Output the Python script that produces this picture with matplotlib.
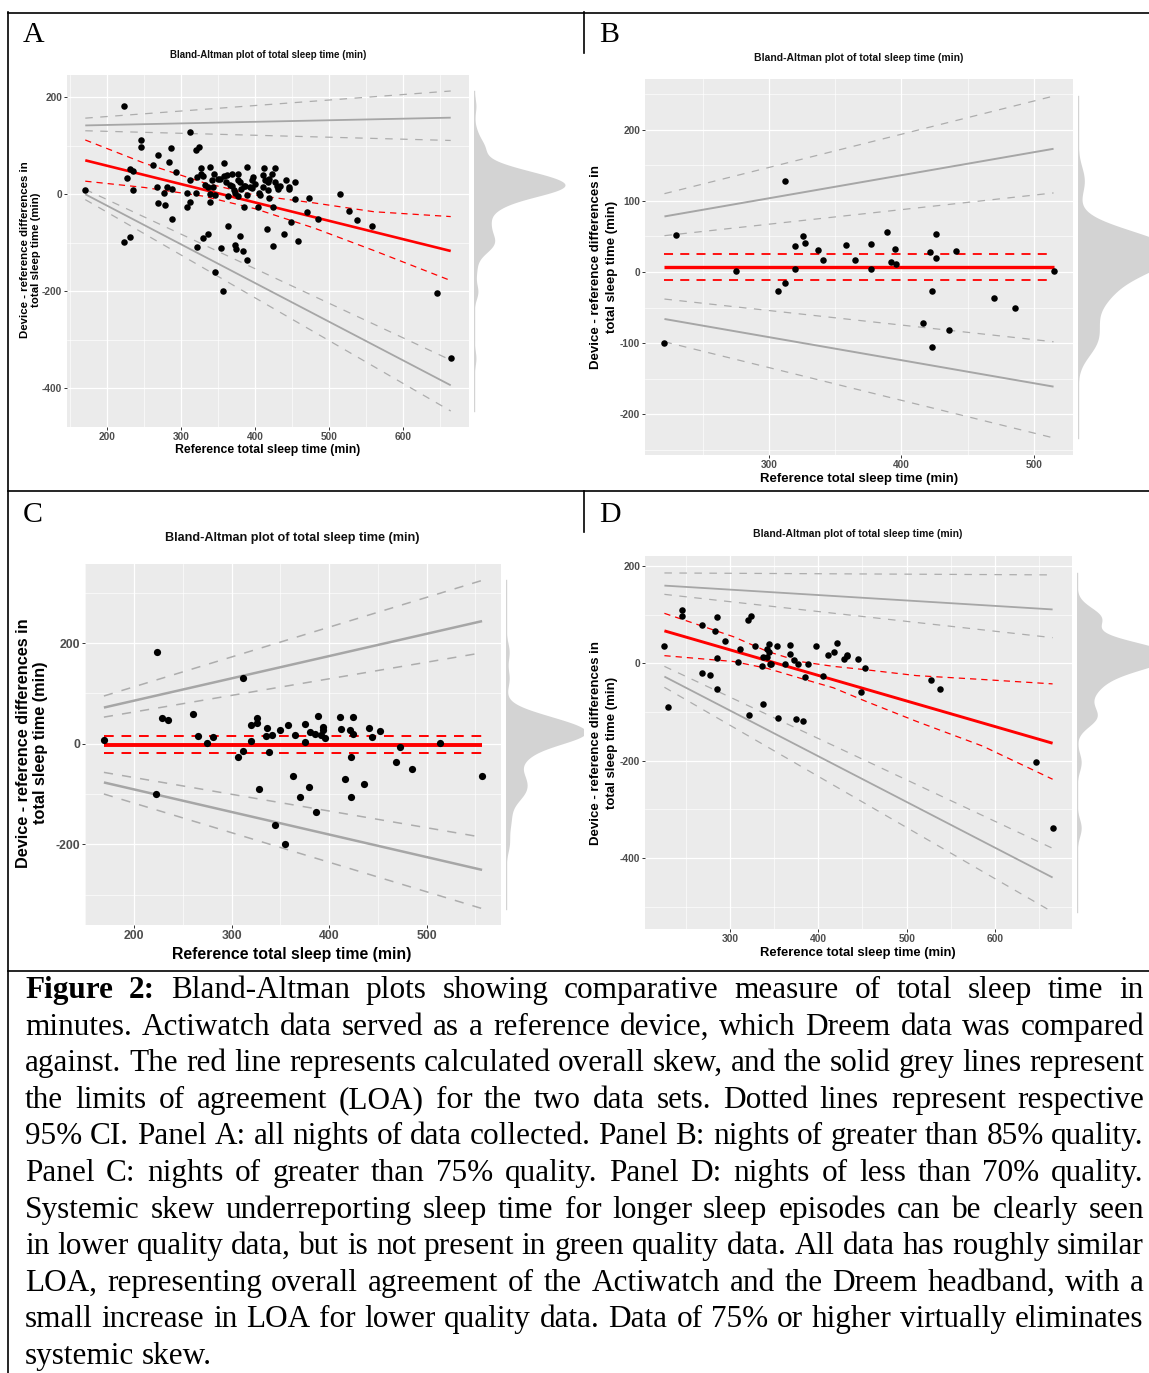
import numpy as np
import matplotlib
matplotlib.use("Agg")
import matplotlib.pyplot as plt
from matplotlib.lines import Line2D
from matplotlib.ticker import MultipleLocator

plt.rcParams["axes.unicode_minus"] = False

# ---------------- DATA ----------------
# Panel A: all nights
a_ref = [170, 223, 223, 230, 227, 230, 235, 235, 245, 245, 261, 268, 267, 268, 276, 278, 283, 286, 281, 287,
         287, 293, 308, 308, 311, 312, 312, 320, 324, 320, 321, 321, 327, 329, 329, 338, 336, 338, 338, 336,
         341, 344, 342, 346, 345, 353, 356, 350, 357, 358, 363, 363, 366, 369, 371, 372, 374, 376, 376, 379,
         379, 381, 383, 385, 385, 388, 389, 388, 392, 395, 397, 403, 406, 412, 410, 413, 416, 417, 419, 422,
         424, 424, 427, 427, 431, 433, 438, 442, 445, 448, 453, 454, 457, 470, 472, 485, 514, 527, 537, 558,
         645, 664, 327, 352, 362, 368, 372, 377, 386, 395, 405, 419, 429, 417, 446, 410, 360, 332, 400]
a_diff = [8, 182, -99, -89, 34, 52, 49, 9, 111, 98, 60, 80, 16, -19, 3, -23, 67, 96, 14, 11,
          -52, 46, -26, 3, 30, 129, -15, 91, 98, 3, -108, 36, 55, 38, -90, 57, 14, 1, -16, -82,
          29, 41, 15, -2, -161, -111, -199, 32, 38, 65, -3, -65, 19, 41, 8, -104, -112, 41, -3, 25,
          -87, 10, -118, -26, 18, -136, 57, -1, 16, 30, 36, -27, -1, 54, 16, 29, -71, 25, -8, 41,
          -26, -107, 54, 26, 11, 18, -81, 30, 10, -58, 25, -10, -96, -36, -7, -50, 1, -34, -53, -65,
          -203, -338, 42, 32, 39, 18, 2, 30, 18, 12, 2, 32, 18, 8, 15, 40, 25, 20, 22]
a_bias = [70, -117]
a_loa_up = [142, 158]
a_loa_up_hi = [157, 213]
a_loa_up_lo = [131, 111]
a_loa_low = [0, -394]
a_loa_low_hi = [10, -342]
a_loa_low_lo = [-11, -447]
a_ci_ref = [170, 250, 330, 400, 480, 560, 664]
a_ci_hi = [112, 64, 24, -2, -18, -36, -46]
a_ci_lo = [27, 14, -4, -30, -70, -116, -178]

# Panel B: nights > 85% quality
b_ref = [221, 230, 275, 312, 307, 312, 320, 320, 326, 327, 337, 341, 358, 365, 377, 377, 389, 392, 395, 396,
         416, 422, 423, 423, 426, 426, 436, 441, 470, 486, 515]
b_diff = [-100, 52, 2, 128, -26, -16, 37, 4, 51, 41, 31, 17, 38, 17, 40, 4, 56, 14, 32, 11,
          -71, 28, -26, -106, 53, 20, -81, 30, -37, -50, 1]
b_bias = [7, 7]
b_loa_up = [78, 173]
b_loa_up_hi = [110, 247]
b_loa_up_lo = [51, 111]
b_loa_low = [-66, -161]
b_loa_low_hi = [-38, -98]
b_loa_low_lo = [-98, -233]
b_ci_ref = [221, 515]
b_ci_hi = [25, 25]
b_ci_lo = [-11, -11]

# Panel C: nights > 75% quality
c_ref = [169, 223, 222, 229, 235, 260, 266, 275, 281, 307, 312, 312, 320, 320, 326, 326, 328, 336, 335, 338,
         341, 345, 350, 355, 358, 363, 365, 370, 375, 375, 379, 380, 386, 387, 389, 392, 394, 394, 396, 411,
         412, 416, 421, 422, 422, 425, 425, 436, 441, 444, 452, 469, 473, 485, 514, 557]
c_diff = [7, 183, -100, 52, 48, 60, 15, 2, 14, -26, 130, -15, 37, 5, 52, 42, -90, 32, 15, -17,
          17, -161, 28, -199, 38, -65, 17, -106, 40, 4, -87, 23, 20, -136, 56, 17, 33, 27, 12, 54,
          30, -71, 27, -26, -106, 54, 20, -80, 31, 13, 25, -36, -7, -50, 1, -65]
c_bias = [-2, -2]
c_loa_up = [72, 244]
c_loa_up_hi = [95, 325]
c_loa_up_lo = [53, 181]
c_loa_low = [-77, -251]
c_loa_low_hi = [-57, -186]
c_loa_low_lo = [-100, -328]
c_ci_ref = [169, 557]
c_ci_hi = [16, 16]
c_ci_lo = [-18, -18]

# Panel D: nights < 70% quality
d_ref = [226, 230, 246, 246, 268, 268, 277, 283, 286, 286, 286, 294, 309, 311, 322, 320, 324, 329, 336, 337,
         338, 342, 342, 344, 344, 345, 346, 353, 354, 362, 368, 368, 372, 375, 377, 383, 385, 388, 398, 405,
         411, 418, 421, 429, 432, 433, 445, 448, 453, 528, 538, 646, 665]
d_diff = [35, -89, 109, 97, 80, -19, -23, 67, 96, 12, -52, 46, 3, 30, -107, 90, 97, 36, -5, -83,
          13, 13, 29, 40, 23, -1, -2, 36, -113, -2, 38, 20, 8, -114, -1, -118, -28, -1, 36, -26,
          18, 23, 41, 10, 15, 18, 10, -58, -10, -34, -53, -203, -338]
d_bias = [67, -164]
d_loa_up = [160, 111]
d_loa_up_hi = [186, 182]
d_loa_up_lo = [142, 53]
d_loa_low = [-27, -440]
d_loa_low_hi = [-6, -380]
d_loa_low_lo = [-49, -511]
d_ci_ref = [226, 304, 342, 379, 417, 454, 511, 586, 665]
d_ci_hi = [103, 55, 25, 4, -6, -13, -25, -33, -42]
d_ci_lo = [16, 4, -10, -30, -50, -78, -119, -170, -238]

panel_letters = ["A", "B", "C", "D"]
title_text = "Bland-Altman plot of total sleep time (min)"
xlabel_text = "Reference total sleep time (min)"
ylabel_lines = ["Device - reference differences in", "total sleep time (min)"]

caption_lines = [
    "Figure 2: Bland-Altman plots showing comparative measure of total sleep time in",
    "minutes. Actiwatch data served as a reference device, which Dreem data was compared",
    "against. The red line represents calculated overall skew, and the solid grey lines represent",
    "the limits of agreement (LOA) for the two data sets. Dotted lines represent respective",
    "95% CI. Panel A: all nights of data collected. Panel B: nights of greater than 85% quality.",
    "Panel C: nights of greater than 75% quality. Panel D: nights of less than 70% quality.",
    "Systemic skew underreporting sleep time for longer sleep episodes can be clearly seen",
    "in lower quality data, but is not present in green quality data. All data has roughly similar",
    "LOA, representing overall agreement of the Actiwatch and the Dreem headband, with a",
    "small increase in LOA for lower quality data. Data of 75% or higher virtually eliminates",
    "systemic skew.",
]

# ---------------- LAYOUT ----------------
W, H = 1149, 1373
DPI = 100
fig = plt.figure(figsize=(W / DPI, H / DPI), dpi=DPI)
fig.patch.set_facecolor("white")
renderer = fig.canvas.get_renderer()
SANS = "Liberation Sans"
SERIF = "Liberation Serif"


def fx(x):
    return x / W


def fy(y):
    return 1 - y / H


def rect(l, t, r, b):
    return [l / W, 1 - b / H, (r - l) / W, (b - t) / H]


def fit_text(x, y, s, width, rotation=0, ha="center", va="center", **kw):
    t = fig.text(fx(x), fy(y), s, fontsize=10, rotation=rotation, ha=ha, va=va, **kw)
    bb = t.get_window_extent(renderer)
    w = bb.height if rotation else bb.width
    fs = 10 * width / w
    t.set_fontsize(fs)
    return t, fs


# table borders
def hline(y, x0, x1):
    fig.add_artist(Line2D([fx(x0), fx(x1)], [fy(y), fy(y)], color="black", lw=1.2))


def vline(x, y0, y1):
    fig.add_artist(Line2D([fx(x), fx(x)], [fy(y0), fy(y1)], color="black", lw=1.2))


hline(12.5, 7.5, 1149)
vline(8, 12, 1373)
vline(583.5, 12, 53)
hline(491, 7.5, 1149)
vline(583.5, 491, 532)
hline(971, 7.5, 1149)

specs = [
    dict(x=a_ref, y=a_diff, bias=a_bias, up=a_loa_up, up_hi=a_loa_up_hi, up_lo=a_loa_up_lo,
         low=a_loa_low, low_hi=a_loa_low_hi, low_lo=a_loa_low_lo,
         ci_x=a_ci_ref, ci_hi=a_ci_hi, ci_lo=a_ci_lo,
         ax=(67, 75, 469, 427), ystep=200, tick_fs=7.3,
         title=(268, 54.5, 195), xlab=(268, 450, 186), ylab=(25.5, 36, 250, 176),
         dens=(474, 583, 91), letter=(23, 42),
         ms=22, lw_bias=1.9, lw_ci=0.9, lw_loa=1.3, lw_loa_ci=0.9),
    dict(x=b_ref, y=b_diff, bias=b_bias, up=b_loa_up, up_hi=b_loa_up_hi, up_lo=b_loa_up_lo,
         low=b_loa_low, low_hi=b_loa_low_hi, low_lo=b_loa_low_lo,
         ci_x=b_ci_ref, ci_hi=b_ci_hi, ci_lo=b_ci_lo,
         ax=(645, 79, 1073, 455), ystep=100, tick_fs=7.3,
         title=(859, 58, 208), xlab=(859, 479, 198), ylab=(596, 612, 267, 205),
         dens=(1078, 1149, 96), letter=(599, 42),
         ms=22, lw_bias=2.4, lw_ci=1.3, lw_loa=1.4, lw_loa_ci=0.9),
    dict(x=c_ref, y=c_diff, bias=c_bias, up=c_loa_up, up_hi=c_loa_up_hi, up_lo=c_loa_up_lo,
         low=c_loa_low, low_hi=c_loa_low_hi, low_lo=c_loa_low_lo,
         ci_x=c_ci_ref, ci_hi=c_ci_hi, ci_lo=c_ci_lo,
         ax=(85, 564, 501, 925), ystep=200, tick_fs=8.85,
         title=(292, 538, 254), xlab=(292, 955, 240), ylab=(24, 41, 743, 250),
         dens=(506, 583, 80), letter=(23, 522),
         ms=27, lw_bias=2.8, lw_ci=1.4, lw_loa=1.8, lw_loa_ci=1.1),
    dict(x=d_ref, y=d_diff, bias=d_bias, up=d_loa_up, up_hi=d_loa_up_hi, up_lo=d_loa_up_lo,
         low=d_loa_low, low_hi=d_loa_low_hi, low_lo=d_loa_low_lo,
         ci_x=d_ci_ref, ci_hi=d_ci_hi, ci_lo=d_ci_lo,
         ax=(645, 556, 1072, 929), ystep=200, tick_fs=7.4,
         title=(858, 534, 208), xlab=(858, 953, 197), ylab=(596.5, 612, 743, 205),
         dens=(1077, 1149, 94), letter=(599, 522),
         ms=22, lw_bias=2.1, lw_ci=0.9, lw_loa=1.3, lw_loa_ci=0.9),
]

GREY_SOLID = "#A6A6A6"
GREY_DASH = "#ADADAD"
RED = "#FF0000"
DENS = "#D3D3D3"

for letter, s in zip(panel_letters, specs):
    x = np.asarray(s["x"], float)
    y = np.asarray(s["y"], float)
    xs = [x.min(), x.max()]
    line_vals = np.concatenate([s["bias"], s["up"], s["up_hi"], s["up_lo"], s["low"],
                                s["low_hi"], s["low_lo"], s["ci_hi"], s["ci_lo"]])
    ymin = min(y.min(), line_vals.min())
    ymax = max(y.max(), line_vals.max())
    xr = xs[1] - xs[0]
    yr = ymax - ymin
    ylim = (ymin - 0.05 * yr, ymax + 0.05 * yr)

    ax = fig.add_axes(rect(*s["ax"]))
    ax.set_facecolor("#EBEBEB")
    for sp in ax.spines.values():
        sp.set_visible(False)
    ax.set_xlim(xs[0] - 0.05 * xr, xs[1] + 0.05 * xr)
    ax.set_ylim(*ylim)
    ax.xaxis.set_major_locator(MultipleLocator(100))
    ax.xaxis.set_minor_locator(MultipleLocator(50))
    ax.yaxis.set_major_locator(MultipleLocator(s["ystep"]))
    ax.yaxis.set_minor_locator(MultipleLocator(s["ystep"] / 2))
    ax.grid(which="major", color="white", lw=0.9)
    ax.grid(which="minor", color="white", lw=0.45)
    ax.set_axisbelow(True)
    ax.tick_params(which="minor", length=0)
    ax.tick_params(which="major", length=2.2, width=0.7, color="#333333",
                   labelcolor="#4D4D4D", labelsize=s["tick_fs"], pad=1.2)
    for lab in ax.get_xticklabels() + ax.get_yticklabels():
        lab.set_fontweight("bold")
        lab.set_fontfamily(SANS)

    # limits of agreement (grey)
    ax.plot(xs, s["up"], color=GREY_SOLID, lw=s["lw_loa"], solid_capstyle="butt", zorder=2)
    ax.plot(xs, s["low"], color=GREY_SOLID, lw=s["lw_loa"], solid_capstyle="butt", zorder=2)
    for key in ["up_hi", "up_lo", "low_hi", "low_lo"]:
        ax.plot(xs, s[key], color=GREY_DASH, lw=s["lw_loa_ci"], dashes=(6, 6), zorder=2)
    # bias (red)
    ax.plot(xs, s["bias"], color=RED, lw=s["lw_bias"], solid_capstyle="butt", zorder=3)
    ax.plot(s["ci_x"], s["ci_hi"], color=RED, lw=s["lw_ci"], dashes=(5, 4), zorder=3)
    ax.plot(s["ci_x"], s["ci_lo"], color=RED, lw=s["lw_ci"], dashes=(5, 4), zorder=3)
    # points
    ax.scatter(x, y, s=s["ms"], color="black", lw=0, zorder=4)

    # marginal density (gaussian KDE, R bw.nrd0)
    n = len(y)
    sd = np.std(y, ddof=1)
    iqr = np.percentile(y, 75) - np.percentile(y, 25)
    bw = 0.9 * min(sd, iqr / 1.34) * n ** (-0.2)
    grid = np.linspace(line_vals.min(), line_vals.max(), 600)
    dens = np.exp(-0.5 * ((grid[:, None] - y[None, :]) / bw) ** 2).sum(axis=1) / (n * bw * np.sqrt(2 * np.pi))
    base, right, peak = s["dens"]
    dax = fig.add_axes(rect(base, s["ax"][1], right, s["ax"][3]))
    dax.set_ylim(*ylim)
    dax.set_xlim(0, dens.max() * (right - base) / peak)
    dax.fill_betweenx(grid, 0, dens, color=DENS, lw=0)
    dax.plot([0, 0], [grid[0], grid[-1]], color=DENS, lw=1.0)
    dax.axis("off")

    # texts
    tx, ty, tw = s["title"]
    fit_text(tx, ty, title_text, tw, family=SANS, weight="bold", color="#111111")
    lx, ly, lw_ = s["xlab"]
    fit_text(lx, ly, xlabel_text, lw_, family=SANS, weight="bold", color="black")
    y1x, y2x, yc, yl = s["ylab"]
    _, fs = fit_text(y1x, yc, ylabel_lines[0], yl, rotation=90, family=SANS, weight="bold", color="black")
    fig.text(fx(y2x), fy(yc), ylabel_lines[1], rotation=90, ha="center", va="center",
             family=SANS, weight="bold", color="black", fontsize=fs)
    lx0, lby = s["letter"]
    fig.text(fx(lx0), fy(lby), letter, family=SERIF, fontsize=21.5, ha="left", va="baseline")

# ---------------- CAPTION (justified) ----------------
cap_left, cap_right = 25, 1144
base0, step = 998, 36.6
ref_fs = 20.0
cap_texts = []
cap_widths = []
for i, line in enumerate(caption_lines):
    words = line.split(" ")
    row = []
    for j, w in enumerate(words):
        bold = (i == 0 and j < 2)
        t = fig.text(0, 0, w, fontsize=ref_fs, family=SERIF, weight="bold" if bold else "normal",
                     ha="left", va="baseline", color="black")
        row.append(t)
    cap_texts.append(row)
    cap_widths.append([t.get_window_extent(renderer).width for t in row])
space_ref = 0.25 * ref_fs * DPI / 72
natural = [sum(wl) + space_ref * (len(wl) - 1) for wl in cap_widths[:-1]]
scale = (cap_right - cap_left) / max(natural)
cap_fs = ref_fs * scale
for i, (row, wl) in enumerate(zip(cap_texts, cap_widths)):
    wl = [w * scale for w in wl]
    for t in row:
        t.set_fontsize(cap_fs)
    if i == len(caption_lines) - 1:
        gap = space_ref * scale
    else:
        gap = (cap_right - cap_left - sum(wl)) / (len(wl) - 1)
    xx = cap_left
    for t, w in zip(row, wl):
        t.set_position((fx(xx), fy(base0 + i * step)))
        xx += w + gap

fig.savefig("out.png", dpi=DPI, facecolor="white")
